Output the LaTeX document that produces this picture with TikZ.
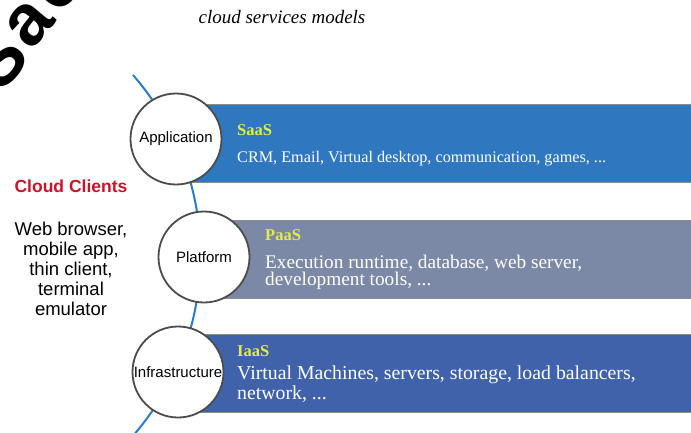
\documentclass[tikz,border=0pt]{standalone}
\usepackage{fontspec}
\setmainfont{Liberation Serif}
\newfontfamily\arialf{Liberation Sans}
\definecolor{saasblue}{HTML}{2F78C0}
\definecolor{paasgray}{HTML}{7B89A6}
\definecolor{iaasblue}{HTML}{3F62AA}
\definecolor{lblyellow}{HTML}{E4EC4A}
\definecolor{cloudred}{HTML}{C8142A}
\definecolor{arcblue}{HTML}{2A7CC8}
\begin{document}
\begin{tikzpicture}[x=1pt,y=-1pt,
  layerbox/.style={draw=black!45, line width=1.4pt, anchor=north west, minimum height=78pt},
  ring/.style={circle, draw=black!70, line width=1.8pt, fill=white, minimum size=91pt, inner sep=0pt, font=\arialf\fontsize{15}{15}\selectfont},
  tag/.style={anchor=base west, inner sep=0pt, text=lblyellow, font=\bfseries\fontsize{16.5}{16.5}\selectfont},
  desc/.style={anchor=base west, text=white, align=left, inner sep=0pt},
  wmark/.style={rotate=50, inner sep=0pt, anchor=center, font=\arialf\bfseries\fontsize{72}{72}\selectfont}
]
\useasboundingbox (0,0) rectangle (691,432);
\clip (0,0) rectangle (691,432);
% watermark fragment
\node[wmark] (wma) at (30,24) {a};
\node[wmark] (wmc) at (58,-12) {c};
\node[wmark] (wms) at (-2,60) {S};
% title
\node[font=\itshape\fontsize{19}{19}\selectfont, anchor=base] (title) at (282,23) {cloud services models};
% blue arc through the circles
\coordinate (arcstart) at (133,75);
\draw[arcblue, line width=2pt] (arcstart) arc[start angle=-41, end angle=43, radius=275];
% boxes
\node[layerbox, fill=saasblue, minimum width=520pt] (saas) at (185,104) {};
\node[layerbox, fill=paasgray, minimum width=500pt] (paas) at (205,220) {};
\node[layerbox, fill=iaasblue, minimum width=520pt] (iaas) at (180,334) {};
% circles
\node[ring] (app) at (176,139) {Application};
\node[ring] (plat) at (204,257) {Platform};
\node[ring] (infra) at (178,372) {Infrastructure};
% box texts
\node[tag] (saastag) at (237,135) {SaaS};
\node[desc, font=\fontsize{16.2}{16}\selectfont] (saasdesc) at (237,162) {CRM, Email, Virtual desktop, communication, games, ...};
\node[tag] (paastag) at (265,240) {PaaS};
\node[desc, font=\fontsize{19.3}{17}\selectfont] (paasdesc) at (265,285) {Execution runtime, database, web server,\\development tools, ...};
\node[tag] (iaastag) at (237,356) {IaaS};
\node[desc, font=\fontsize{19.8}{17}\selectfont] (iaasdesc) at (237,399) {Virtual Machines, servers, storage, load balancers,\\network, ...};
% left texts
\node[font=\arialf\bfseries\fontsize{17.5}{17.5}\selectfont, text=cloudred, anchor=base] (cc) at (71,192) {Cloud Clients};
\node[font=\arialf\fontsize{18.5}{20}\selectfont, align=center, anchor=base] (clients) at (71,315) {Web browser,\\mobile app,\\thin client,\\terminal\\emulator};
\end{tikzpicture}
\end{document}
